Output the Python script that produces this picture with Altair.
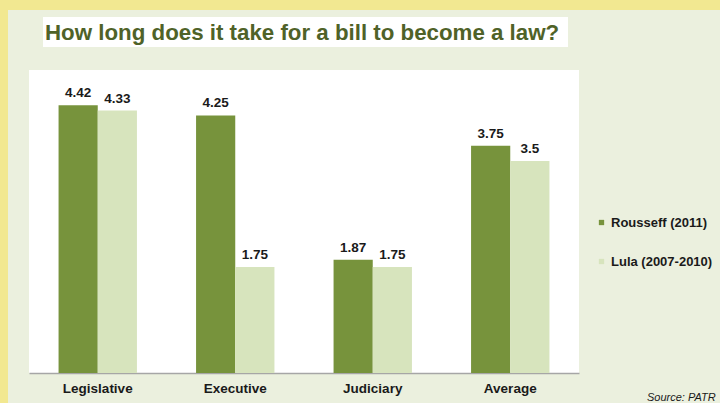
import altair as alt
import pandas as pd

categories = ["Legislative", "Executive", "Judiciary", "Average"]
series = ["Rousseff (2011)", "Lula (2007-2010)"]
rousseff = [4.42, 4.25, 1.87, 3.75]
lula = [4.33, 1.75, 1.75, 3.5]
colors = ["#77933c", "#d7e4bd"]
title_text = "How long does it take for a bill to become a law?"
source_text = "Source: PATR"

rows = []
for i, c in enumerate(categories):
    rows.append(dict(category=c, series=series[0], value=rousseff[i], label=f"{rousseff[i]:g}"))
    rows.append(dict(category=c, series=series[1], value=lula[i], label=f"{lula[i]:g}"))
df = pd.DataFrame(rows)

PL, PT, PR, PB = 29, 70, 141, 30
W, H = 720 - PL - PR, 403 - PT - PB

FONT = "Liberation Sans"

x = alt.X(
    "category:N", sort=categories, title=None,
    scale=alt.Scale(paddingInner=0.43, paddingOuter=0.215),
    axis=alt.Axis(labelAngle=0, ticks=False, domainColor="#a6a6a6", domainWidth=1.5,
                  labelFont=FONT, labelFontSize=13.5, labelFontWeight="bold",
                  labelColor="#1a1a1a", labelPadding=8),
)
xo = alt.XOffset("series:N", sort=series, scale=alt.Scale(paddingInner=0, paddingOuter=0))
y = alt.Y("value:Q", scale=alt.Scale(domain=[0, 5]), axis=None)
color = alt.Color(
    "series:N", sort=series,
    scale=alt.Scale(domain=series, range=colors),
    legend=alt.Legend(title=None, orient="none", legendX=566, legendY=146,
                      symbolType="square", symbolSize=28, symbolStrokeWidth=0,
                      rowPadding=25, labelFont=FONT, labelFontSize=13,
                      labelFontWeight="bold", labelColor="#1a1a1a", labelOffset=3),
)

one = pd.DataFrame({"a": [0]})

border_left = alt.Chart(one).mark_rect(color="#f2e891").encode(
    x=alt.value(-PL), x2=alt.value(8 - PL), y=alt.value(-PT), y2=alt.value(403 - PT))
border_top = alt.Chart(one).mark_rect(color="#f2e891").encode(
    x=alt.value(-PL), x2=alt.value(720 - PL), y=alt.value(-PT), y2=alt.value(10 - PT))
title_box = alt.Chart(one).mark_rect(color="white").encode(
    x=alt.value(43 - PL), x2=alt.value(568 - PL), y=alt.value(17 - PT), y2=alt.value(47 - PT))
title = alt.Chart(one).mark_text(
    text=title_text, align="left", baseline="alphabetic", font=FONT,
    fontSize=22.3, fontWeight="bold", color="#4f6228",
).encode(x=alt.value(45 - PL), y=alt.value(40 - PT))
source = alt.Chart(one).mark_text(
    text=source_text, align="left", baseline="alphabetic", font=FONT,
    fontSize=11, fontStyle="italic", color="#1a1a1a",
).encode(x=alt.value(647 - PL), y=alt.value(401 - PT))

bars = alt.Chart(df).mark_bar().encode(x=x, xOffset=xo, y=y, color=color)
labels = alt.Chart(df).mark_text(
    dy=-8, baseline="alphabetic", font=FONT, fontWeight="bold", fontSize=13.5, color="#1a1a1a"
).encode(x=x, xOffset=xo, y=y, text="label:N")

chart = alt.layer(border_left, border_top, title_box, title, source, bars, labels).properties(
    width=W, height=H,
    autosize=alt.AutoSizeParams(type="none"),
    padding={"left": PL, "top": PT, "right": PR, "bottom": PB},
    background="#ebf0de",
).configure_view(fill="white", stroke=None)

chart.save("out.html", embed_options={"renderer": "svg", "actions": False})
